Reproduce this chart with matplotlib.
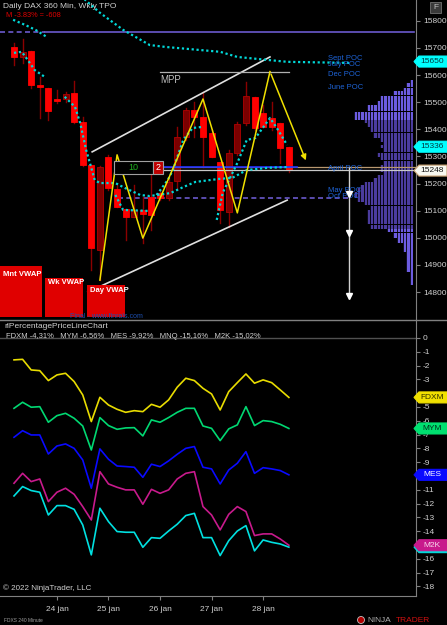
import numpy as np
import matplotlib
matplotlib.use('Agg')
import matplotlib.pyplot as plt
from matplotlib.patches import Rectangle, Polygon, Ellipse
from matplotlib.lines import Line2D

plt.rcParams['font.family'] = ['Liberation Sans', 'DejaVu Sans']
plt.rcParams['axes.unicode_minus'] = False

# --- price bars (360 min) ---
opens = [15705, 15668, 15690, 15564, 15552, 15512, 15511, 15535, 15428, 15269, 14955, 15299, 15180, 15106, 15077, 15103, 15152,
         15165, 15147, 15211, 15373, 15472, 15445, 15386, 15281, 15096, 15312, 15425, 15518, 15459, 15441, 15425, 15336]
highs = [15720, 15734, 15690, 15594, 15552, 15545, 15538, 15580, 15446, 15269, 15265, 15306, 15195, 15106, 15195, 15152, 15239,
         15176, 15225, 15410, 15479, 15501, 15539, 15398, 15281, 15324, 15428, 15576, 15520, 15490, 15502, 15425, 15336]
lows = [15638, 15645, 15553, 15442, 15435, 15499, 15501, 15424, 15265, 14881, 14844, 15176, 15114, 14992, 15077, 14981, 15029,
        15139, 15139, 15176, 15361, 15372, 15262, 15298, 15055, 15041, 15306, 15416, 15398, 15409, 15398, 15276, 15243]
closes = [15668, 15687, 15564, 15555, 15469, 15505, 15531, 15426, 15269, 14961, 15262, 15183, 15115, 15077, 15103, 15088, 15084,
          15147, 15207, 15373, 15472, 15445, 15371, 15299, 15103, 15314, 15419, 15523, 15404, 15410, 15410, 15330, 15250]

dates = ['24 jan', '25 jan', '26 jan', '27 jan', '28 jan']
date_bars = [5, 11, 17, 23, 29]

# --- VWAP style lines (bar index, price) ---
mnt_x = [7.6, 8.3, 10.0, 12.7, 15.8, 17.6, 24.0, 26.0, 31.8, 39.1]
mnt_y = [15905, 15877, 15830, 15767, 15711, 15704, 15686, 15667, 15649, 15645]
prev_x = [-0.1, 1.3, 2.5, 3.8]
prev_y = [15804, 15785, 15767, 15741]
wk_a_x = [0, 0.9, 1.6, 2.4, 3.6]
wk_a_y = [15682, 15686, 15656, 15619, 15593]
wk_b_x = [5.9, 7.1, 7.7, 8.4, 8.9, 9.4, 10.0, 11.8, 12.9, 14.7, 15.8, 18.2, 19.7, 21.1, 23.8, 25.4, 27.1, 29.5, 31.8]
wk_b_y = [15520, 15483, 15424, 15324, 15269, 15213, 15202, 15202, 15184, 15158, 15154, 15165, 15187, 15206, 15217, 15221,
          15250, 15258, 15261]
day_segs = [
    ([11.8, 12.7, 15.8], [15158, 15103, 15099]),
    ([16.6, 17.9, 18.5, 19.7, 20.8, 21.9], [15158, 15213, 15250, 15361, 15405, 15409]),
    ([23.6, 24.3, 26.0, 27.1, 28.1, 29.8, 30.6, 31.8], [15066, 15166, 15276, 15361, 15368, 15442, 15405, 15342]),
]

# zigzag
zz_x = [10.0, 12.0, 15.0, 22.0, 26.0, 29.8, 34.1]
zz_y = [14844, 15306, 14999, 15512, 15092, 15613, 15276]

# channel
ch_up_x, ch_up_y = [9.1, 29.8], [15317, 15667]
ch_lo_x, ch_lo_y = [8.6, 31.8], [14800, 15139]

# POC labels
poc_names = ['Sept POC', 'July POC', 'Dec POC', 'June POC', 'April POC', 'May POC', 'Oct POC']
poc_prices = [15662, 15640, 15601, 15555, 15256, 15176, 15154]

# TPO profile
prof_price = [15576, 15564, 15545, 15533, 15515, 15496, 15478, 15456, 15441, 15428, 15416, 15398, 15379, 15361, 15349, 15336,
              15324, 15306, 15293, 15275, 15262, 15250, 15238, 15225, 15213, 15201, 15189, 15176, 15164, 15152, 15139, 15127,
              15109, 15096, 15078, 15059, 15041, 15029, 15010, 14992, 14973, 14955, 14937, 14912, 14887, 14863, 14845, 14832]
prof_tpo = [1, 2, 3, 6, 10, 11, 14, 18, 18, 15, 14, 13, 12, 10, 9, 10, 9, 11, 10, 9, 10, 10, 9, 11, 12, 15, 16, 17, 18, 18,
            17, 15, 13, 14, 14, 14, 13, 8, 6, 5, 3, 3, 2, 2, 2, 1, 1, 1]
va_high, va_low = 15428, 15035

# --- percentage lines ---
fdxm = [-1.59, -1.55, -2.32, -2.37, -3.09, -2.68, -2.56, -3.16, -4.13, -6.06, -4.30, -4.86, -5.17, -5.39, -5.27, -5.34, -4.81,
        -5.02, -4.49, -3.57, -2.92, -3.09, -3.65, -4.06, -5.22, -3.89, -3.24, -2.61, -3.28, -3.04, -3.24, -3.77, -4.31]
mym = [-5.10, -4.66, -5.02, -4.98, -6.11, -5.63, -5.46, -5.82, -6.38, -8.12, -5.77, -6.35, -6.62, -6.52, -6.50, -7.10, -5.94,
       -6.11, -5.77, -5.39, -5.10, -5.10, -6.38, -6.55, -7.44, -6.59, -6.30, -4.98, -6.35, -5.99, -6.06, -6.26, -6.56]
mes = [-7.20, -6.72, -7.03, -7.03, -8.41, -7.83, -7.68, -8.00, -8.84, -10.89, -8.04, -8.79, -9.28, -9.32, -9.37, -10.10, -9.15,
       -9.32, -8.91, -8.43, -8.00, -7.87, -9.37, -9.49, -10.58, -9.57, -9.08, -8.24, -9.81, -9.40, -9.49, -9.61, -9.92]
mnq = [-11.45, -10.77, -11.06, -11.18, -12.83, -12.15, -12.15, -12.42, -13.55, -15.72, -12.34, -13.31, -14.03, -14.08, -14.08,
       -15.17, -14.47, -14.52, -13.99, -13.50, -12.87, -12.71, -14.47, -14.47, -15.77, -14.69, -13.99, -13.60, -15.43, -14.64,
       -14.81, -14.93, -15.16]
m2k = [-10.53, -9.81, -10.41, -10.22, -11.86, -11.18, -10.89, -11.33, -12.22, -13.19, -9.69, -10.58, -10.82, -11.01, -11.01,
       -12.05, -10.97, -11.26, -11.01, -10.22, -9.81, -9.69, -12.22, -12.83, -13.91, -12.78, -12.22, -12.58, -14.32, -14.20,
       -14.20, -14.57, -15.02]

# --- figure ---
W, H = 447, 625
fig = plt.figure(figsize=(W / 100, H / 100), dpi=100, facecolor='black')

def fx(px):
    return px / W

def fy(py):
    return 1 - py / H

ax = fig.add_axes([0, fy(320), fx(416), 320 / H], facecolor='black')
ax2 = fig.add_axes([0, fy(596), fx(416), 276 / H], facecolor='black', sharex=ax)

ax.set_xlim(-1.63, 46.8)
ax.set_ylim(14697, 15877)
ax2.set_ylim(-18.70, 1.30)

txt_col = '#d0d0d0'
axis_col = '#808080'
for a in (ax, ax2):
    for s in ['left', 'top', 'bottom']:
        a.spines[s].set_visible(False)
    a.spines['right'].set_color(axis_col)
    a.yaxis.tick_right()
    a.tick_params(axis='y', colors=axis_col, labelcolor=txt_col, labelsize=6, length=3, width=0.8, pad=2)
ax2.spines['bottom'].set_visible(True)
ax2.spines['bottom'].set_color(axis_col)
ax.tick_params(axis='x', bottom=False, labelbottom=False)
ax2.set_xticks(date_bars)
ax2.set_xticklabels(dates)
ax2.tick_params(axis='x', colors=axis_col, labelcolor=txt_col, labelsize=6, length=3, pad=4)
ax.set_yticks(range(14800, 15801, 100))
pct_ticks = list(range(-18, 1))
ax2.set_yticks(pct_ticks)
# labels covered by the series tags are not shown
ax2.set_yticklabels(['' if t in (-4, -10, -15) else str(t) for t in pct_ticks])

# --- top panel ---
# purple lines
ax.plot([-1.63, 3.6], [15760, 15760], color='#6a5acd', lw=1.2, ls=(0, (3, 2)), zorder=2)
ax.plot([3.6, 46.6], [15760, 15760], color='#6a5acd', lw=1.2, zorder=2)
ax.plot([12.1, 38.9], [15146, 15146], color='#6a5acd', lw=1.2, ls=(0, (3, 2)), zorder=2)

# profile
right = 46.45
unit = 0.384
pp = np.array(prof_price)
pw = np.array(prof_tpo) * unit
ph = np.abs(np.gradient(pp))
in_va = (pp <= va_high) & (pp >= va_low)
ax.barh(pp[~in_va], pw[~in_va], left=right - pw[~in_va], height=ph[~in_va], color='#6c5ce0', zorder=1)
ax.barh(pp[in_va], pw[in_va], left=right - pw[in_va], height=ph[in_va], color='#4b3c9e', zorder=1)
for k in range(1, 19):
    ax.plot([right - k * unit] * 2, [14820, 15590], color='black', lw=0.6, zorder=1.5)

# candles
for i, (o, h, l, c) in enumerate(zip(opens, highs, lows, closes)):
    up = c > o
    ax.plot([i, i], [l, h], color='#8b0000', lw=1, zorder=3)
    fc = '#7a0000' if up else '#ff0000'
    ec = '#b00000' if up else '#ff0000'
    ax.add_patch(Rectangle((i - 0.35, min(o, c)), 0.7, max(abs(c - o), 4), fc=fc, ec=ec, lw=0.6, zorder=4))

# horizontal level lines
ax.plot([17.3, 46.8], [15262, 15262], color='#b89870', lw=0.9, zorder=5)
ax.plot([17.3, 33.0], [15262, 15262], color='#2030ff', lw=1.2, zorder=5)
ax.plot([17.3, 46.8], [15250, 15250], color='#c8c8c8', lw=0.9, zorder=5)

# channel + MPP
ax.plot(ch_up_x, ch_up_y, color='#e0e0e0', lw=1.2, zorder=5)
ax.plot(ch_lo_x, ch_lo_y, color='#e0e0e0', lw=1.2, zorder=5)
ax.plot([17.0, 32.0], [15613, 15613], color='#b0b0b0', lw=0.9, zorder=5)
ax.text(17.0, 15600, 'MPP', color='#c0c0c0', fontsize=7, va='top', ha='left', zorder=6)

# cyan dotted lines
dot = dict(color='#00d8d8', lw=1.6, ls=(0, (1, 1.2)), zorder=6)
ax.plot(mnt_x, mnt_y, **dot)
ax.plot(prev_x, prev_y, **dot)
ax.plot(wk_a_x, wk_a_y, **dot)
ax.plot(wk_b_x, wk_b_y, **dot)
for sx, sy in day_segs:
    ax.plot(sx, sy, **dot)

# zigzag
ax.plot(zz_x[:-1], zz_y[:-1], color='#f0e000', lw=1.1, zorder=7)
ax.annotate('', xy=(zz_x[-1], zz_y[-1]), xytext=(zz_x[-2], zz_y[-2]),
            arrowprops=dict(arrowstyle='-|>', color='#f0e000', lw=1.1, mutation_scale=8), zorder=7)

# 10 / 2 box
ax.add_patch(Rectangle((11.6, 15236), 4.6, 48, fc='black', ec='#a0a0a0', lw=0.8, zorder=8))
ax.text(13.9, 15260, '10', color='#20b020', fontsize=6.5, ha='center', va='center', zorder=9)
ax.add_patch(Rectangle((16.2, 15236), 1.15, 48, fc='#c00000', ec='#a0a0a0', lw=0.8, zorder=8))
ax.text(16.78, 15260, '2', color='white', fontsize=6.5, ha='center', va='center', zorder=9)

# POC labels
for name, p in zip(poc_names, poc_prices):
    ax.text(36.6, p, name, color='#1e64d8', fontsize=5.5, ha='left', va='center', zorder=9)

# white arrows
ax.plot([39.0, 39.0], [14778, 15262], color='#d0d0d0', lw=1.0, zorder=8)
ax.plot([39.0] * 3, [15162, 15018, 14785], ls='none', marker='v', ms=5, color='white', zorder=9)

# VWAP boxes
for x0, x1, top, ty, lab in [(0, 42, 266, 274, 'Mnt VWAP'), (45, 83, 278, 283, 'Wk VWAP'), (87, 125, 285, 290, 'Day VWAP')]:
    ax.add_patch(Rectangle((x0 / 416, (320 - 317) / 320), (x1 - x0) / 416, (317 - top) / 320,
                           transform=ax.transAxes, fc='#e00000', ec='none', zorder=10))
    ax.text((x0 + 3) / 416, (320 - ty) / 320, lab, transform=ax.transAxes, color='white', fontsize=5.5,
            fontweight='bold', ha='left', va='center', zorder=11)
ax.text(70 / 416, (320 - 316) / 320, 'Final - www.finrals.com', transform=ax.transAxes, color='#1e50b0',
        fontsize=5, ha='left', va='center', zorder=11)

ax.text(3 / 416, (320 - 7) / 320, 'Daily DAX 360 Min, Wkly TPO', transform=ax.transAxes, color=txt_col,
        fontsize=6, ha='left', va='center')
ax.text(6 / 416, (320 - 15.5) / 320, 'M -3.83% = -608', transform=ax.transAxes, color='#e00000',
        fontsize=5.3, ha='left', va='center')

# --- bottom panel ---
x = np.arange(len(fdxm))
ax2.axhline(0, color='#505050', lw=1.0, zorder=1)
series = [(fdxm, '#e8dc00'), (mym, '#00d872'), (mes, '#0a0aff'), (mnq, '#00e0e0'), (m2k, '#c81a8c')]
for vals, col in series:
    ax2.plot(x, vals, color=col, lw=1.2, zorder=3)

ax2.text(4 / 416, (596 - 327) / 276, 'rlPercentagePriceLineChart', transform=ax2.transAxes, color=txt_col,
         fontsize=6, ha='left', va='center')
legend_line = '   '.join(f'{n} {v[-1]:.2f}%'.replace('.', ',') for n, v in
                           [('FDXM', fdxm), ('MYM', mym), ('MES', mes), ('MNQ', mnq), ('M2K', m2k)])
ax2.text(6 / 416, (596 - 336) / 276, legend_line, transform=ax2.transAxes, color=txt_col,
         fontsize=5.5, ha='left', va='center')
ax2.text(3 / 416, (596 - 588) / 276, '\u00a9 2022 NinjaTrader, LLC', transform=ax2.transAxes, color=txt_col,
         fontsize=5.8, ha='left', va='center')

# --- price tags on the right axis ---
def tag(a, val, label, fc, tc, ec=None):
    yd = a.transData.transform((0, val))[1]
    x0 = 414
    h = 5.5
    pts = [(x0, yd), (x0 + 5, yd + h), (W, yd + h), (W, yd - h), (x0 + 5, yd - h)]
    pts = [(px / W, py / H) for px, py in pts]
    fig.patches.append(Polygon(pts, closed=True, transform=fig.transFigure, fc=fc, ec=ec or fc, lw=0.8, zorder=20))
    if label:
        fig.text((x0 + 18) / W, yd / H, label, color=tc, fontsize=6, ha='center', va='center', zorder=21)

tag(ax, 15650, '15650', '#00ffff', '#003a40')
tag(ax, 15336, '15336', '#00ffff', '#003a40')
tag(ax, 15248, '15248', '#f8f8f0', '#101010', '#c8a070')
tag(ax2, fdxm[-1], 'FDXM', '#f0e000', '#303000')
tag(ax2, mym[-1], 'MYM', '#00e070', '#00301a')
tag(ax2, mes[-1], 'MES', '#0a0aff', '#ffffff')
tag(ax2, mnq[-1], '', '#00e0e0', '#003a40')   # hidden under the M2K tag
tag(ax2, m2k[-1], 'M2K', '#c81a8c', '#f8d8ec')

# frame bits
fig.add_artist(Line2D([0, 1], [fy(319.5), fy(319.5)], color=axis_col, lw=1.0))
fig.patches.append(Rectangle((fx(430), fy(13)), fx(11), 11 / H, transform=fig.transFigure,
                             fc='#3a3a3a', ec='#707070', lw=0.6))
fig.text(fx(435.5), fy(7.5), 'F', color='#c0c0c0', fontsize=6, ha='center', va='center')
fig.text(fx(4), fy(620), 'FDXS 240 Minute', color='#a0a0a0', fontsize=3.5, ha='left', va='center')
fig.patches.append(Ellipse((fx(361), fy(620)), fx(7), 7 / H, transform=fig.transFigure, fc='#b00000', ec='#c0c0c0', lw=0.6))
fig.text(fx(367), fy(620), 'NINJA', color='#b0b0b0', fontsize=6, ha='left', va='center')
fig.text(fx(396), fy(620), 'TRADER', color='#d01010', fontsize=6, ha='left', va='center')

fig.savefig('out.png', dpi=100, facecolor='black')
